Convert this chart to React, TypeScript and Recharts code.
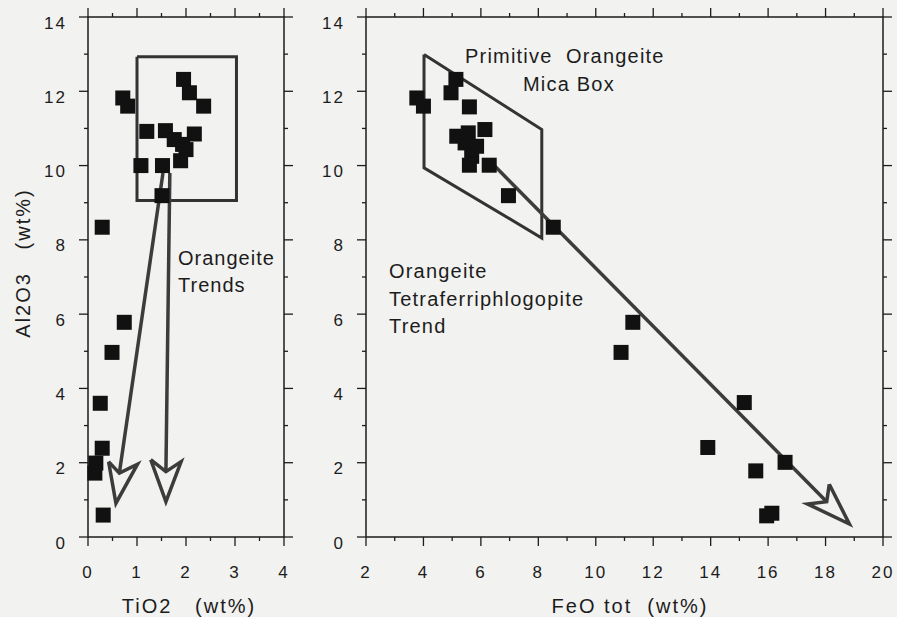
import { ScatterChart, Scatter, XAxis, YAxis } from "recharts";

// TiO2 vs Al2O3 (left panel)
const tio2 = [0.71, 0.81, 1.95, 2.07, 2.36, 1.2, 1.58, 2.17, 1.76, 1.93, 2.0, 1.89, 1.08, 1.52, 1.51, 0.29, 0.74, 0.49, 0.25, 0.29, 0.16, 0.14, 0.31];
const al2o3Left = [11.82, 11.6, 12.32, 11.96, 11.6, 10.92, 10.94, 10.85, 10.7, 10.57, 10.43, 10.13, 10.0, 10.0, 9.19, 8.34, 5.78, 4.97, 3.6, 2.39, 1.99, 1.72, 0.59];

// FeO tot vs Al2O3 (right panel)
const feo = [3.77, 4.0, 5.13, 4.96, 5.6, 5.16, 6.14, 5.56, 5.45, 5.85, 5.68, 5.6, 6.29, 6.96, 8.52, 11.29, 10.88, 15.17, 13.9, 15.57, 16.59, 15.95, 16.13];
const al2o3Right = [11.82, 11.6, 12.32, 11.96, 11.58, 10.79, 10.97, 10.88, 10.61, 10.52, 10.25, 10.01, 10.01, 9.19, 8.34, 5.78, 4.97, 3.62, 2.41, 1.78, 2.01, 0.57, 0.64];

// outlines and trend arrows
const boxX = [1.0, 3.03, 3.03, 1.0, 1.0];
const boxY = [12.93, 12.93, 9.06, 9.06, 12.93];
const shaft1X = [1.53, 0.64];
const shaft1Y = [9.8, 1.72];
const head1X = [0.42, 0.57, 1.01, 0.64, 0.42];
const head1Y = [2.03, 0.91, 1.96, 1.72, 2.03];
const shaft2X = [1.67, 1.59];
const shaft2Y = [9.8, 1.76];
const head2X = [1.28, 1.59, 1.9, 1.59, 1.28];
const head2Y = [2.08, 0.95, 2.03, 1.76, 2.08];

const micaBoxX = [4.02, 8.12, 8.12, 4.02, 4.02];
const micaBoxY = [12.99, 10.97, 8.05, 9.94, 12.99];
const trendX = [6.49, 18.04];
const trendY = [9.98, 0.95];
const trendHeadX = [18.13, 18.83, 17.37, 18.04, 18.13];
const trendHeadY = [1.42, 0.35, 0.89, 0.95, 1.42];

const leftXTicks = [0, 0.5, 1, 1.5, 2, 2.5, 3, 3.5, 4];
const rightXTicks = [2, 3, 4, 5, 6, 7, 8, 9, 10, 11, 12, 13, 14, 15, 16, 17, 18, 19, 20];
const yTicks = [0, 1, 2, 3, 4, 5, 6, 7, 8, 9, 10, 11, 12, 13, 14];

const zip = (xs: number[], ys: number[]) => xs.map((x, i) => ({ x, y: ys[i] }));

const FONT = "'Liberation Sans', Arial, Helvetica, sans-serif";
const INK = "#1c1c1c";
const TREND = "#3c3c3c";
const BG = "#f2f2f0";

const Square = (p: any) => <rect x={p.cx - 7.5} y={p.cy - 7.5} width={15} height={15} fill="#111" />;
const NoDot = () => <g />;

const even = (v: number) => v % 2 === 0;
const whole = (v: number) => Number.isInteger(v);

// tick marks drawn as scatter shapes so they sit on the library's scales
function tickMark(dir: "down" | "up" | "left" | "right", key: "x" | "y", isMajor: (v: number) => boolean) {
  return (p: any) => {
    const len = isMajor(p.payload[key]) ? 9 : 4;
    const dx = dir === "left" ? -len : dir === "right" ? len : 0;
    const dy = dir === "up" ? -len : dir === "down" ? len : 0;
    return <line x1={p.cx} y1={p.cy} x2={p.cx + dx} y2={p.cy + dy} stroke={INK} strokeWidth={1.3} />;
  };
}

function xLabel(isMajor: (v: number) => boolean) {
  return (p: any) => {
    const v = p.payload.value;
    if (!isMajor(v)) return <g />;
    return (
      <text x={p.x} y={p.y + 41} textAnchor="middle" fontSize={17} fontFamily={FONT} fill={INK} letterSpacing={2}>
        {v}
      </text>
    );
  };
}

const yLabel = (p: any) => {
  const v = p.payload.value;
  if (!even(v)) return <g />;
  return (
    <text x={p.x - 21} y={p.y + 11.5} textAnchor="end" fontSize={17} fontFamily={FONT} fill={INK} letterSpacing={2}>
      {v}
    </text>
  );
};

function Panel(props: {
  width: number;
  margin: { top: number; right: number; bottom: number; left: number };
  yWidth: number;
  xDomain: [number, number];
  xTicks: number[];
  xMajor: (v: number) => boolean;
  children: any;
}) {
  const { width, margin, yWidth, xDomain, xTicks, xMajor } = props;
  const [x0, x1] = xDomain;
  const frame = zip([x0, x1, x1, x0, x0], [0, 0, 14, 14, 0]);
  const bottom = xTicks.map((x) => ({ x, y: 0 }));
  const top = xTicks.map((x) => ({ x, y: 14 }));
  const left = yTicks.map((y) => ({ x: x0, y }));
  const right = yTicks.map((y) => ({ x: x1, y }));
  return (
    <ScatterChart width={width} height={617} margin={margin}>
      <XAxis
        type="number"
        dataKey="x"
        domain={xDomain}
        ticks={xTicks}
        interval={0}
        height={80}
        tickSize={0}
        tickMargin={0}
        tickLine={false}
        axisLine={false}
        tick={xLabel(xMajor)}
      />
      <YAxis
        type="number"
        dataKey="y"
        domain={[0, 14]}
        ticks={yTicks}
        interval={0}
        width={yWidth}
        tickSize={0}
        tickMargin={0}
        tickLine={false}
        axisLine={false}
        tick={yLabel}
      />
      <Scatter data={frame} line={{ stroke: INK, strokeWidth: 1.5 }} shape={NoDot} isAnimationActive={false} />
      <Scatter data={bottom} shape={tickMark("down", "x", xMajor)} isAnimationActive={false} />
      <Scatter data={top} shape={tickMark("up", "x", xMajor)} isAnimationActive={false} />
      <Scatter data={left} shape={tickMark("left", "y", even)} isAnimationActive={false} />
      <Scatter data={right} shape={tickMark("right", "y", even)} isAnimationActive={false} />
      {props.children}
    </ScatterChart>
  );
}

const outline = (stroke: string, w: number) => ({ stroke, strokeWidth: w, strokeLinejoin: "miter" as const });

export default function App() {
  const txt = { fontFamily: FONT, fill: INK, fontSize: 20 };
  return (
    <div style={{ position: "absolute", left: 0, top: 0, width: 897, height: 617, background: BG, overflow: "hidden" }}>
      <div style={{ position: "absolute", left: 0, top: 0 }}>
        <Panel width={300} margin={{ top: 17, right: 16, bottom: 0, left: 0 }} yWidth={88} xDomain={[0, 4]} xTicks={leftXTicks} xMajor={whole}>
          <Scatter data={zip(boxX, boxY)} line={outline("#333", 3)} shape={NoDot} isAnimationActive={false} />
          <Scatter data={zip(shaft1X, shaft1Y)} line={outline(TREND, 3.5)} shape={NoDot} isAnimationActive={false} />
          <Scatter data={zip(shaft2X, shaft2Y)} line={outline(TREND, 3.5)} shape={NoDot} isAnimationActive={false} />
          <Scatter data={zip(tio2, al2o3Left)} shape={Square} isAnimationActive={false} />
          <Scatter data={zip(head1X, head1Y)} line={outline(TREND, 3.5)} shape={NoDot} isAnimationActive={false} />
          <Scatter data={zip(head2X, head2Y)} line={outline(TREND, 3.5)} shape={NoDot} isAnimationActive={false} />
        </Panel>
      </div>
      <div style={{ position: "absolute", left: 300, top: 0 }}>
        <Panel width={597} margin={{ top: 17, right: 14, bottom: 0, left: 0 }} yWidth={66} xDomain={[2, 20]} xTicks={rightXTicks} xMajor={even}>
          <Scatter data={zip(micaBoxX, micaBoxY)} line={outline("#333", 3)} shape={NoDot} isAnimationActive={false} />
          <Scatter data={zip(trendX, trendY)} line={outline(TREND, 3.5)} shape={NoDot} isAnimationActive={false} />
          <Scatter data={zip(feo, al2o3Right)} shape={Square} isAnimationActive={false} />
          <Scatter data={zip(trendHeadX, trendHeadY)} line={outline(TREND, 3.5)} shape={NoDot} isAnimationActive={false} />
        </Panel>
      </div>
      <svg width={897} height={617} style={{ position: "absolute", left: 0, top: 0, pointerEvents: "none" }}>
        <text {...txt} x={30} y={263} textAnchor="middle" letterSpacing={2} transform="rotate(-90 30 263)" style={{ whiteSpace: "pre" }}>
          {"Al2O3   (wt%)"}
        </text>
        <text {...txt} x={189} y={613} textAnchor="middle" letterSpacing={2} style={{ whiteSpace: "pre" }}>
          {"TiO2   (wt%)"}
        </text>
        <text {...txt} x={630} y={613} textAnchor="middle" letterSpacing={2} style={{ whiteSpace: "pre" }}>
          {"FeO tot  (wt%)"}
        </text>
        <text {...txt} x={178} y={265} letterSpacing={1}>Orangeite</text>
        <text {...txt} x={178} y={292} letterSpacing={1}>Trends</text>
        <text {...txt} x={465} y={63} letterSpacing={1.2} style={{ whiteSpace: "pre" }}>
          {"Primitive  Orangeite"}
        </text>
        <text {...txt} x={523} y={91} letterSpacing={1.2}>Mica Box</text>
        <text {...txt} x={389} y={278} letterSpacing={1.2}>Orangeite</text>
        <text {...txt} x={389} y={306} letterSpacing={1.2}>Tetraferriphlogopite</text>
        <text {...txt} x={389} y={333} letterSpacing={1.2}>Trend</text>
      </svg>
    </div>
  );
}
